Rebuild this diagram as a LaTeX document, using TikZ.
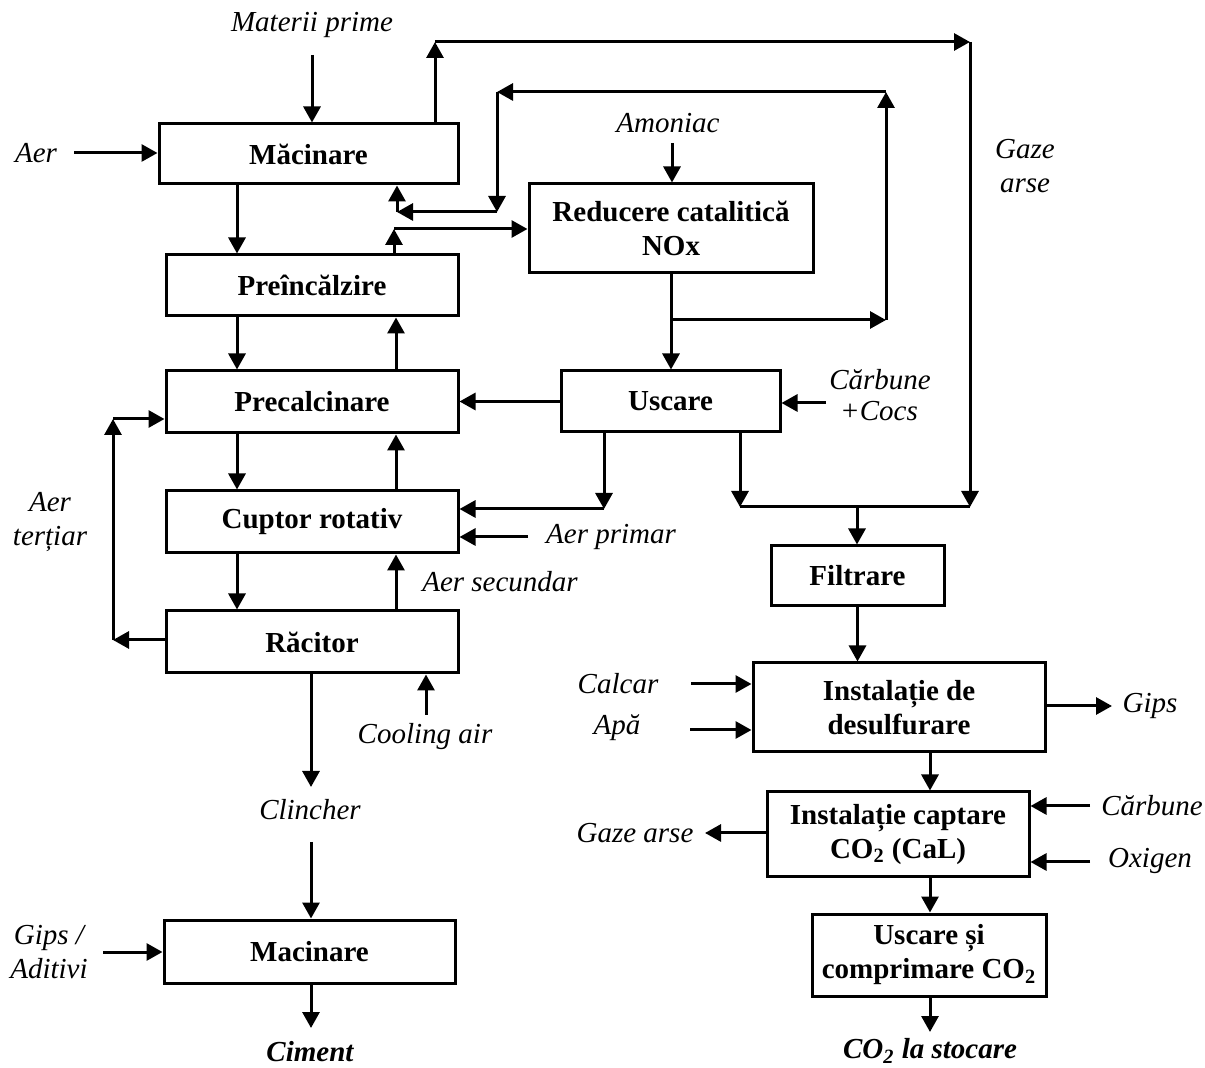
\documentclass[tikz,border=0pt]{standalone}
\usepackage{fontspec}
\setmainfont{Liberation Serif}
\usetikzlibrary{arrows.meta,calc}
\begin{document}
\begin{tikzpicture}[x=0.5pt,y=-0.5pt,
  box/.style={draw,line width=1.5pt,align=center,inner sep=0pt,
    font=\fontsize{14.5}{17}\selectfont\bfseries},
  lbl/.style={inner sep=0pt,align=center,font=\fontsize{14.5}{17}\selectfont\itshape},
  blbl/.style={inner sep=0pt,align=center,font=\fontsize{14.5}{17}\selectfont\bfseries\itshape},
  arr/.style={line width=1.5pt,-{Triangle[length=8pt,width=8.5pt]}},
  ln/.style={line width=1.5pt}]
\useasboundingbox (0,0) rectangle (1205,1068);

% ---- process units, cement line ----
\node[box,minimum width=149.5pt,minimum height=30pt] (mac) at (308.5,154) {Măcinare};
\node[box,minimum width=146pt,minimum height=30.5pt] (pre) at (312,285.5) {Preîncălzire};
\node[box,minimum width=146pt,minimum height=31pt] (prc) at (312,402) {Precalcinare};
\node[box,minimum width=146pt,minimum height=31pt] (cup) at (312,522) {Cuptor rotativ};
\node[box,minimum width=146pt,minimum height=31pt] (rac) at (312,642) {Răcitor};
\node[box,minimum width=145.5pt,minimum height=31.5pt] (mac2) at (309.5,951.5) {Macinare};

% ---- gas treatment line ----
\node[box,minimum width=142pt,minimum height=44.5pt] (red) at (671,228.5) {Reducere catalitică\\NOx};
\node[box,minimum width=109.5pt,minimum height=30.5pt] (usc) at (670.5,401.5) {Uscare};
\node[box,minimum width=86.5pt,minimum height=30pt] (fil) at (857.5,576) {Filtrare};
\node[box,minimum width=146pt,minimum height=44.5pt] (des) at (899,707.5) {Instalație de\\desulfurare};
\node[box,minimum width=131pt,minimum height=42.5pt] (cap) at (898,834.5) {Instalație captare\\CO\textsubscript{2} (CaL)};
\node[box,minimum width=117pt,minimum height=41pt] (ucc) at (929,955) {Uscare și\\comprimare CO\textsubscript{2}};

% ---- stream labels ----
\node[lbl] (lmat) at (312,25) {Materii prime};
\node[lbl] (laer) at (36,153) {Aer};
\node[lbl] (lamo) at (668,123) {Amoniac};
\node[lbl] (lgaz) at (1025,166) {Gaze\\arse};
\node[lbl] (lcar1) at (880,380) {Cărbune};
\node[lbl] (lcar2) at (879,411) {+Cocs};
\node[lbl] (lter) at (50,522) {Aer\\terțiar};
\node[lbl] (lapr) at (611,537) {Aer primar};
\node[lbl] (lase) at (500,582) {Aer secundar};
\node[lbl] (lcool) at (425,737) {Cooling air};
\node[lbl] (lcli) at (310,810) {Clincher};
\node[lbl] (lgip) at (49,952) {Gips /\\Aditivi};
\node[blbl] (lcim) at (310,1052) {Ciment};
\node[lbl] (lcal) at (618,684) {Calcar};
\node[lbl] (lapa) at (617,728) {Apă};
\node[lbl] (lgips) at (1150,706) {Gips};
\node[lbl] (lgaz2) at (635,833) {Gaze arse};
\node[lbl] (lcarb) at (1152,806) {Cărbune};
\node[lbl] (loxi) at (1150,861) {Oxigen};
\node[blbl] (lco2) at (930,1051) {CO\textsubscript{2} la stocare};

% ---- helper points ----
\coordinate (xL) at (237,0);
\coordinate (xR) at (396,0);
\coordinate (m0) at (312,55);
\coordinate (a0) at (74,153);
\coordinate (am0) at (672,143);
\coordinate (g1) at (435,42);
\coordinate (g2) at (970,42);
\coordinate (g3) at (970,507);
\coordinate (g4) at (740,507);
\coordinate (g5) at (857,507);
\coordinate (n1) at (672,320);
\coordinate (n2) at (886,320);
\coordinate (n3) at (886,92);
\coordinate (n4) at (497,92);
\coordinate (n5) at (497,212);
\coordinate (n6) at (397,212);
\coordinate (p1) at (394,229);
\coordinate (cc0) at (826,403);
\coordinate (u1) at (604,509);
\coordinate (ap0) at (528,537);
\coordinate (t1) at (113,640);
\coordinate (t2) at (113,419);
\coordinate (c1) at (426,715);
\coordinate (k1) at (311,787);
\coordinate (k2) at (311,842);
\coordinate (k3) at (311,1028);
\coordinate (gi0) at (103,952);
\coordinate (ca0) at (691,684);
\coordinate (ap1) at (690,730);
\coordinate (gp1) at (1112,706);
\coordinate (d1) at (930,0);
\coordinate (gz1) at (705,833);
\coordinate (cb0) at (1090,806);
\coordinate (ox0) at (1090,862);
\coordinate (co0) at (930,1032);

% ---- feeds into the grinding mill ----
\draw[arr] (m0) -- (m0 |- mac.north);
\draw[arr] (a0) -- (a0 -| mac.west);

% ---- main solid flow down, gas flow up ----
\draw[arr] (mac.south -| xL) -- (pre.north -| xL);
\draw[arr] (pre.south -| xL) -- (prc.north -| xL);
\draw[arr] (prc.south -| xL) -- (cup.north -| xL);
\draw[arr] (cup.south -| xL) -- (rac.north -| xL);
\draw[arr] (prc.north -| xR) -- (pre.south -| xR);
\draw[arr] (cup.north -| xR) -- (prc.south -| xR);
\draw[arr] (rac.north -| xR) -- (cup.south -| xR);

% ---- flue gas bypass to filtration ----
\draw[arr] (mac.north -| g1) -- (g1);
\draw[arr] (g1) -- (g2);
\draw[arr] (g2) -- (g3);
\draw[arr] (usc.south -| g4) -- (g4);
\draw[ln] (g4) -- (g3);
\draw[arr] (g5) -- (g5 |- fil.north);

% ---- NOx reduction loop ----
\draw[arr] (am0) -- (am0 |- red.north);
\draw[arr] (pre.north -| p1) -- (p1);
\draw[arr] (p1) -- (p1 -| red.west);
\draw[arr] (red.south) -- (red.south |- usc.north);
\draw[arr] (n1) -- (n2);
\draw[arr] (n2) -- (n3);
\draw[arr] (n3) -- (n4);
\draw[arr] (n4) -- (n5);
\draw[arr] (n5) -- (n6);
\draw[arr] (n6) -- (n6 |- mac.south);

% ---- drying unit ----
\draw[arr] (usc.west) -- (usc.west -| prc.east);
\draw[arr] (cc0) -- (cc0 -| usc.east);
\draw[arr] (usc.south -| u1) -- (u1);
\draw[arr] (u1) -- (u1 -| cup.east);
\draw[arr] (ap0) -- (ap0 -| cup.east);

% ---- tertiary air and cooler ----
\draw[arr] (rac.west |- t1) -- (t1);
\draw[arr] (t1) -- (t2);
\draw[arr] (t2) -- (t2 -| prc.west);
\draw[arr] (c1) -- (c1 |- rac.south);
\draw[arr] (rac.south -| k1) -- (k1);
\draw[arr] (k2) -- (k2 |- mac2.north);
\draw[arr] (gi0) -- (gi0 -| mac2.west);
\draw[arr] (mac2.south -| k3) -- (k3);

% ---- desulfurisation and CO2 capture ----
\draw[arr] (fil.south) -- (fil.south |- des.north);
\draw[arr] (ca0) -- (ca0 -| des.west);
\draw[arr] (ap1) -- (ap1 -| des.west);
\draw[arr] (des.east |- gp1) -- (gp1);
\draw[arr] (des.south -| d1) -- (cap.north -| d1);
\draw[arr] (cap.west |- gz1) -- (gz1);
\draw[arr] (cb0) -- (cb0 -| cap.east);
\draw[arr] (ox0) -- (ox0 -| cap.east);
\draw[arr] (cap.south -| d1) -- (ucc.north -| d1);
\draw[arr] (ucc.south -| d1) -- (co0);
\end{tikzpicture}
\end{document}
